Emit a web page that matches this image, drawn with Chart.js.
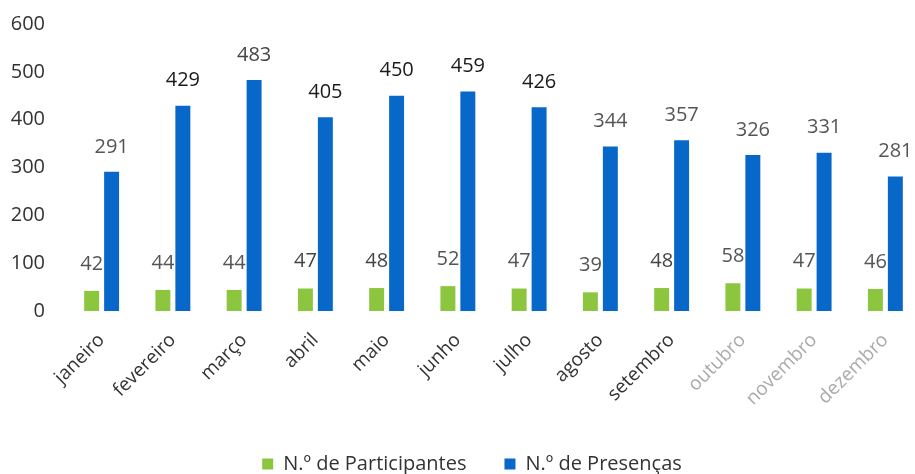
<!DOCTYPE html>
<html>
<head>
<meta charset="utf-8">
<script src="https://cdn.jsdelivr.net/npm/chart.js@4.4.1/dist/chart.umd.min.js"></script>
<style>
  html, body { margin: 0; padding: 0; background: #fff; overflow: hidden; }
  #box { width: 944px; height: 474px; }
</style>
</head>
<body>
<div id="box"><canvas id="grafico"></canvas></div>
<script>
// dati
var meses = ["janeiro", "fevereiro", "março", "abril", "maio", "junho", "julho", "agosto", "setembro", "outubro", "novembro", "dezembro"];
var participantes = [42, 44, 44, 47, 48, 52, 47, 39, 48, 58, 47, 46];
var presencas = [291, 429, 483, 405, 450, 459, 426, 344, 357, 326, 331, 281];
var yTicks = [0, 100, 200, 300, 400, 500, 600];

// colori delle etichette (la scansione ne rende alcune piu chiare)
var coloriEtichetteP = ["#555", "#555", "#555", "#444", "#444", "#555", "#555", "#555", "#444", "#555", "#555", "#555"];
var coloriEtichettePr = ["#555", "#1a1a1a", "#444", "#1a1a1a", "#1a1a1a", "#1a1a1a", "#1a1a1a", "#555", "#555", "#555", "#555", "#555"];
var coloriMesi = ["#333", "#333", "#333", "#333", "#333", "#333", "#333", "#333", "#333", "#aaa", "#aaa", "#aaa"];

var font = "'Open Sans', 'Noto Sans', sans-serif";

var etichetteValori = {
  id: 'etichetteValori',
  afterDatasetsDraw: function(chart) {
    var ctx = chart.ctx;
    ctx.save();
    ctx.font = "20px " + font;
    ctx.textAlign = "center";
    ctx.textBaseline = "middle";
    chart.data.datasets.forEach(function(ds, i) {
      var meta = chart.getDatasetMeta(i);
      var colori = i == 0 ? coloriEtichetteP : coloriEtichettePr;
      meta.data.forEach(function(bar, j) {
        ctx.fillStyle = colori[j];
        ctx.fillText(ds.data[j], bar.x, bar.y - (i == 0 ? 27 : 25));
      });
    });
    ctx.restore();
  }
};

new Chart(document.getElementById("grafico"), {
  type: 'bar',
  data: {
    labels: meses,
    datasets: [
      {
        label: "N.º de Participantes",
        data: participantes,
        backgroundColor: "#8cc63e",
        categoryPercentage: 0.56,
        barPercentage: 0.75
      },
      {
        label: "N.º de Presenças",
        data: presencas,
        backgroundColor: "#0868c9",
        categoryPercentage: 0.56,
        barPercentage: 0.75
      }
    ]
  },
  plugins: [etichetteValori],
  options: {
    responsive: true,
    maintainAspectRatio: false,
    animation: false,
    layout: { padding: { top: 24, left: 0, right: 0, bottom: -10 } },
    plugins: {
      legend: {
        position: 'bottom',
        labels: {
          boxWidth: 11,
          boxHeight: 11,
          padding: 38,
          color: "#333",
          font: { family: font, size: 20 }
        }
      },
      tooltip: { enabled: false }
    },
    scales: {
      x: {
        grid: { display: false, drawTicks: false },
        border: { display: false },
        ticks: {
          minRotation: 45,
          maxRotation: 45,
          padding: 18,
          color: coloriMesi,
          font: { family: font, size: 19 }
        },
        afterFit: function(scale) { scale.height = 105; }
      },
      y: {
        min: 0,
        max: 600,
        afterBuildTicks: function(scale) {
          scale.ticks = yTicks.map(function(v) { return { value: v }; });
        },
        grid: { display: false, drawTicks: false },
        border: { display: false },
        ticks: {
          padding: 21,
          color: "#333",
          font: { family: font, size: 20 }
        },
        afterFit: function(scale) {
          scale.width = 66;
          scale.paddingTop = 0;
          scale.paddingBottom = 0;
        }
      },
      yDestra: {
        position: 'right',
        grid: { display: false, drawTicks: false },
        border: { display: false },
        ticks: { display: false },
        afterFit: function(scale) { scale.width = 23; }
      }
    }
  }
});
</script>
</body>
</html>
